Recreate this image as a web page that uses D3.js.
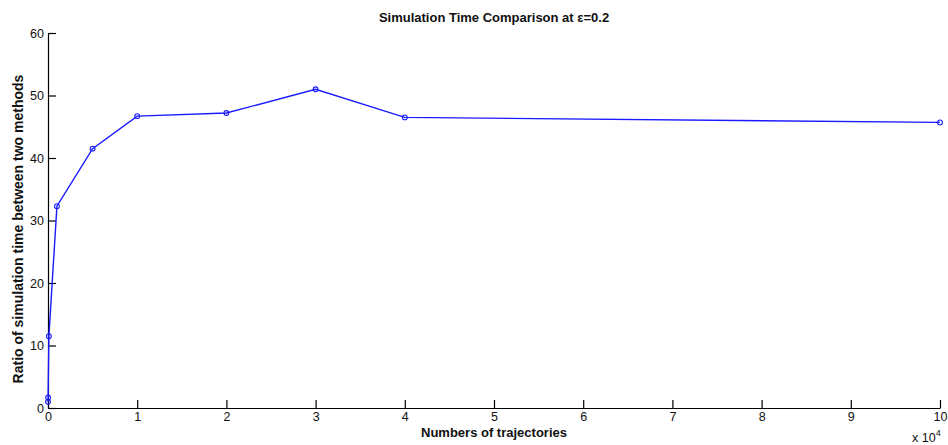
<!DOCTYPE html>
<html>
<head>
<meta charset="utf-8">
<script src="https://cdn.jsdelivr.net/npm/d3@7"></script>
<style>
  html, body { margin: 0; padding: 0; background: #fff; }
  svg { display: block; font-family: "Liberation Sans", Arial, sans-serif; }
</style>
</head>
<body>
<svg id="chart" width="948" height="445"></svg>
<script>
// Number of trajectories and the measured ratio of simulation times
const trajectories = [1, 10, 100, 1000, 5000, 10000, 20000, 30000, 40000, 100000];
const ratios = [1.0, 1.7, 11.5, 32.3, 41.5, 46.7, 47.2, 51.0, 46.5, 45.7];
const xTicks = [0, 1, 2, 3, 4, 5, 6, 7, 8, 9, 10];      // in units of 10^4
const yTicks = [0, 10, 20, 30, 40, 50, 60];

const titleText = "Simulation Time Comparison at \u03b5=0.2";
const xLabelText = "Numbers of trajectories";
const yLabelText = "Ratio of simulation time between two methods";

const svg = d3.select("#chart");
const margin = { left: 48, right: 8, top: 33, bottom: 37 };
const W = 948, H = 445;

const x = d3.scaleLinear().domain([0, 100000]).range([margin.left, W - margin.right]);
const y = d3.scaleLinear().domain([0, 60]).range([H - margin.bottom, margin.top]);

// Axes: ticks point into the plot area
const xAxis = d3.axisBottom(x)
  .tickValues(xTicks.map(d => d * 1e4))
  .tickFormat(d => d / 1e4)
  .tickSizeInner(-8).tickSizeOuter(0).tickPadding(4);
const yAxis = d3.axisLeft(y)
  .tickValues(yTicks)
  .tickSizeInner(-8).tickSizeOuter(0).tickPadding(4);

const gx = svg.append("g")
  .attr("transform", `translate(0,${y(0)})`)
  .call(xAxis);
const gy = svg.append("g")
  .attr("transform", `translate(${x(0)},0)`)
  .call(yAxis);

[gx, gy].forEach(g => {
  g.selectAll("path, line").attr("stroke", "#000").attr("stroke-width", 1.2);
  g.selectAll("text").attr("fill", "#111").style("font-size", "12.5px")
    .style("font-family", '"Liberation Sans", Arial, sans-serif');
});

// Data line
const pts = trajectories.map((t, i) => [t, ratios[i]]);
svg.append("path")
  .datum(pts)
  .attr("fill", "none")
  .attr("stroke", "#1a1aff")
  .attr("stroke-width", 1.4)
  .attr("d", d3.line().x(d => x(d[0])).y(d => y(d[1])));

svg.append("g").selectAll("circle")
  .data(pts)
  .join("circle")
  .attr("cx", d => x(d[0]))
  .attr("cy", d => y(d[1]))
  .attr("r", 2.4)
  .attr("fill", "none")
  .attr("stroke", "#1a1aff")
  .attr("stroke-width", 1.1);

// Title and axis labels
svg.append("text")
  .attr("x", (x.range()[0] + x.range()[1]) / 2)
  .attr("y", 22)
  .attr("text-anchor", "middle")
  .style("font-size", "13px").style("font-weight", "bold")
  .attr("fill", "#111")
  .text(titleText);

svg.append("text")
  .attr("x", (x.range()[0] + x.range()[1]) / 2)
  .attr("y", 437)
  .attr("text-anchor", "middle")
  .style("font-size", "13px").style("font-weight", "bold")
  .attr("fill", "#111")
  .text(xLabelText);

svg.append("text")
  .attr("transform", `translate(23,229) rotate(-90)`)
  .attr("text-anchor", "middle")
  .style("font-size", "14px").style("font-weight", "bold")
  .attr("fill", "#111")
  .text(yLabelText);

// Exponent note for the x axis
const expo = svg.append("text")
  .attr("x", 912)
  .attr("y", 442)
  .style("font-size", "12.5px")
  .attr("fill", "#111");
expo.append("tspan").text("x 10");
expo.append("tspan").attr("dy", -6).style("font-size", "9px").text("4");
</script>
</body>
</html>
